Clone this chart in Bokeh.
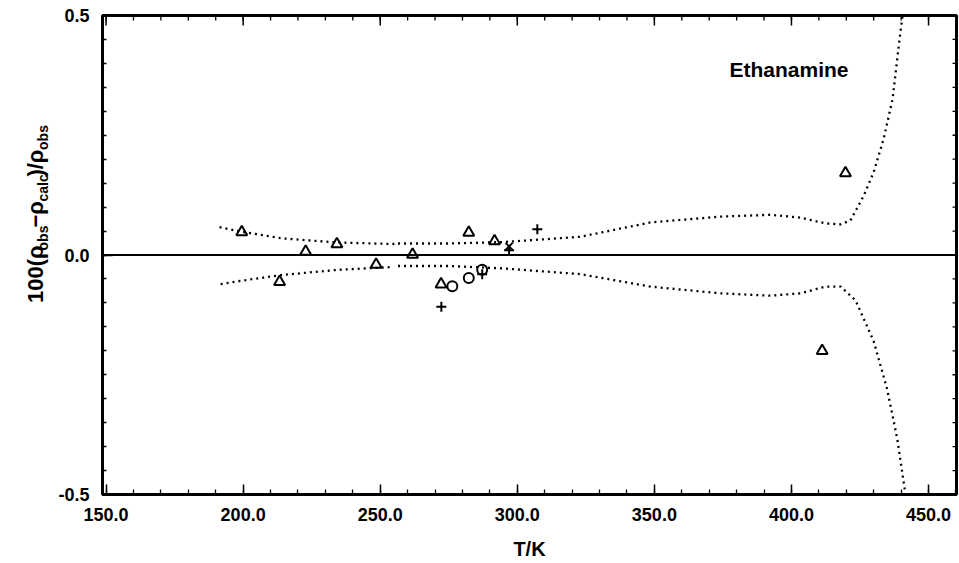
import math
from bokeh.plotting import figure
from bokeh.layouts import row
from bokeh.models import Range1d, FixedTicker, Span, Label, NumeralTickFormatter
from bokeh.core.properties import value
from bokeh.embed import file_html
from bokeh.resources import INLINE

# ---------------- data ----------------
tri_T = [199.5, 213.3, 222.8, 234.2, 248.5, 261.8, 272.2, 282.3, 291.7, 419.7, 411.2]
tri_y = [0.048, -0.056, 0.007, 0.023, -0.020, 0.001, -0.061, 0.047, 0.029, 0.171, -0.200]

circ_T = [276.3, 282.3, 287.2]
circ_y = [-0.065, -0.048, -0.031]

plus_T = [272.3, 307.3, 287.2, 297.0]
plus_y = [-0.108, 0.054, -0.040, 0.010]

xmark_T = [297.0]
xmark_y = [0.018]

# dotted deviation bands (two correlations, upper and lower branches)
up1_T = [191.4, 199.1, 213.7, 234.4, 255.2]
up1_y = [0.058, 0.049, 0.035, 0.026, 0.023]
lo1_T = [191.8, 199.1, 213.7, 234.4, 254.9]
lo1_y = [-0.061, -0.054, -0.042, -0.031, -0.025]

up2_T = [256.5, 275.0, 295.0, 323.0, 348.6, 374.0, 392.3, 403.3, 412.4, 418.0, 421.5,
         426.3, 430.0, 433.6, 436.9, 439.0, 440.5]
up2_y = [0.024, 0.024, 0.027, 0.038, 0.068, 0.080, 0.084, 0.078, 0.066, 0.064, 0.072,
         0.123, 0.173, 0.242, 0.326, 0.430, 0.500]
lo2_T = [256.5, 275.0, 295.0, 323.0, 348.6, 374.0, 392.3, 403.3, 412.4, 418.0, 423.4,
         430.0, 434.9, 438.6, 441.6]
lo2_y = [-0.023, -0.023, -0.028, -0.040, -0.066, -0.080, -0.085, -0.080, -0.066, -0.066,
         -0.095, -0.180, -0.280, -0.384, -0.500]

x_major = [150, 200, 250, 300, 350, 400, 450]
x_minor = [v for v in range(150, 461, 10)]
y_major = [-0.5, 0.0, 0.5]
y_minor = [round(-0.5 + 0.05 * i, 2) for i in range(21)]

title_text = "Ethanamine"
x_title = "T/K"
# y-axis title pieces: (text, is_subscript)
y_title_parts = [("100(ρ", False), ("obs", True), ("−ρ", False), ("calc", True),
                 (")/ρ", False), ("obs", True)]

# ---------------- main figure ----------------
FONT = "Liberation Sans"
LEFT_W = 50
X0, X1 = 148.7, 460.2
Y0, Y1 = -0.5, 0.5
p = figure(width=959 - LEFT_W, height=563, x_range=Range1d(X0, X1), y_range=Range1d(Y0, Y1),
           output_backend="svg", toolbar_location=None,
           min_border_left=102 - LEFT_W, min_border_right=3, min_border_top=15,
           min_border_bottom=69)
p.background_fill_color = "white"
p.border_fill_color = "white"
p.grid.visible = False
p.outline_line_color = "black"
p.outline_line_width = 3

def style_axis(ax):
    ax.axis_line_color = None
    ax.major_tick_in = 10
    ax.major_tick_out = 0
    ax.minor_tick_in = 5
    ax.minor_tick_out = 0
    ax.major_tick_line_color = "black"
    ax.minor_tick_line_color = "black"
    ax.major_tick_line_width = 1.5
    ax.minor_tick_line_width = 1.3
    ax.major_label_text_font = FONT
    ax.major_label_text_font_style = "bold"
    ax.major_label_text_font_size = "18px"
    ax.major_label_text_color = "black"

xa = p.xaxis[0]
xa.ticker = FixedTicker(ticks=x_major, minor_ticks=x_minor)
xa.formatter = NumeralTickFormatter(format="0.0")
style_axis(xa)
xa.major_label_standoff = 13
xa.axis_label = x_title
xa.axis_label_text_font = FONT
xa.axis_label_text_font_style = "bold"
xa.axis_label_text_font_size = "20px"
xa.axis_label_text_color = "black"
xa.axis_label_standoff = 14

ya = p.yaxis[0]
ya.ticker = FixedTicker(ticks=y_major, minor_ticks=y_minor)
ya.formatter = NumeralTickFormatter(format="0.0")
style_axis(ya)
ya.minor_tick_in = 4
ya.major_label_standoff = 13

# inward ticks on the top and right edges (half of each dash is clipped by the frame)
p.scatter(x_major, [Y1] * len(x_major), marker="dash", angle=math.pi / 2, size=20,
          line_color="black", line_width=1.5)
p.scatter(x_minor, [Y1] * len(x_minor), marker="dash", angle=math.pi / 2, size=10,
          line_color="black", line_width=1.3)
p.scatter([X1] * len(y_major), y_major, marker="dash", size=20,
          line_color="black", line_width=1.5)
p.scatter([X1] * len(y_minor), y_minor, marker="dash", size=8,
          line_color="black", line_width=1.3)

# zero line
p.add_layout(Span(location=0, dimension="width", line_color="black", line_width=2))

# dotted curves
for T, Y in [(up1_T, up1_y), (lo1_T, lo1_y), (up2_T, up2_y), (lo2_T, lo2_y)]:
    p.line(T, Y, line_color="black", line_width=2.3, line_dash="2 4")

# markers
p.scatter(tri_T, tri_y, marker="triangle", size=11, fill_color=None,
          line_color="black", line_width=2)
p.scatter(circ_T, circ_y, marker="circle", size=10, fill_color=None,
          line_color="black", line_width=2)
p.scatter(plus_T, plus_y, marker="cross", size=10, line_color="black", line_width=2)
p.scatter(xmark_T, xmark_y, marker="x", size=10, line_color="black", line_width=2)

# chart title inside plot
p.add_layout(Label(x=377.4, y=0.388, text=title_text, text_font=FONT,
                   text_font_style="bold", text_font_size="21px", text_color="black",
                   text_baseline="alphabetic", text_align="left"))

# ---------------- left strip holding the y-axis title ----------------
side = figure(width=LEFT_W, height=563, x_range=Range1d(0, LEFT_W), y_range=Range1d(0, 563),
              output_backend="svg", toolbar_location=None, x_axis_type=None, y_axis_type=None,
              min_border=0)
side.outline_line_color = None
side.grid.visible = False
side.background_fill_color = "white"
side.border_fill_color = "white"

W = {"0": 0.556, "1": 0.556, "(": 0.333, ")": 0.333, "/": 0.278, "ρ": 0.72,
     "−": 0.584, "o": 0.611, "b": 0.611, "s": 0.556, "c": 0.556, "a": 0.556, "l": 0.278}
F_MAIN, F_SUB = 22, 14
BASE_X, SUB_X, START_Y = 35, 42, 563 - 338
off = 0.0
for txt, sub in y_title_parts:
    fs = F_SUB if sub else F_MAIN
    side.text(x=[SUB_X if sub else BASE_X], y=[START_Y + off], text=[txt], angle=math.pi / 2,
              text_font=value(FONT), text_font_style="bold", text_font_size=value(f"{fs}px"),
              text_color="black", text_baseline="alphabetic", text_align="left")
    off += sum(W.get(c, 0.6) for c in txt) * fs + 2.0

layout = row(side, p)
open("out.html", "w").write(file_html(layout, INLINE))
